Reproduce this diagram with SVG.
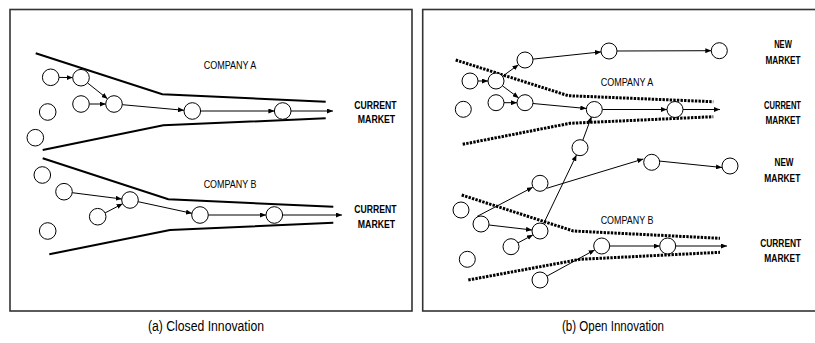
<svg xmlns="http://www.w3.org/2000/svg" width="815" height="343" viewBox="0 0 815 343">
<style>
.frame{fill:none;stroke:#333;stroke-width:1.6}
.funnel{fill:none;stroke:#000;stroke-width:2}
.dotted{fill:none;stroke:#000;stroke-width:3;stroke-dasharray:2.4 1.2}
.node{fill:#fff;stroke:#000;stroke-width:1}
.arrow{fill:none;stroke:#000;stroke-width:1;marker-end:url(#ah)}
.lbl{font-family:"Liberation Sans",Arial,sans-serif;font-size:11px;fill:#000;text-anchor:middle}
.mkt{font-family:"Liberation Sans",Arial,sans-serif;font-size:11px;font-weight:bold;fill:#000;text-anchor:middle}
.cap{font-family:"Liberation Sans",Arial,sans-serif;font-size:14px;fill:#000;text-anchor:middle}
</style>
<defs>
<marker id="ah" markerUnits="userSpaceOnUse" markerWidth="6" markerHeight="5" refX="6" refY="2.5" orient="auto">
<path d="M0,0 L6,2.5 L0,5 z" fill="#000"/>
</marker>
</defs>
<rect width="815" height="343" fill="#fff"/>

<g id="panel-a-frame"><rect class="frame" x="10" y="9.5" width="402" height="301.5"/></g>
<g id="panel-b-frame"><rect class="frame" x="422.7" y="9.5" width="400" height="301.5"/></g>

<g id="funnels">
<polyline class="funnel" points="35.7,53.3 162.3,94.3 325.7,101.7"/>
<polyline class="funnel" points="42.7,150 163.3,125.3 325.7,118.3"/>
<polyline class="funnel" points="42.7,158.3 168.3,199.3 333.3,206.7"/>
<polyline class="funnel" points="49.3,254.3 170,230 333.3,222.7"/>
<polyline class="dotted" points="455.7,60 568.3,95.7 713.3,101.7"/>
<polyline class="dotted" points="462.7,144.3 570,123.3 713.3,116.7"/>
<polyline class="dotted" points="461.7,195 573.3,231 720,238.3"/>
<polyline class="dotted" points="468.3,280 580,259.3 720,252.3"/>
</g>

<g id="connectors">
<line class="arrow" x1="59" y1="77.4" x2="72.7" y2="77.6"/>
<line class="arrow" x1="87.5" y1="82.9" x2="107.5" y2="98.8"/>
<line class="arrow" x1="89.3" y1="104" x2="105.7" y2="104"/>
<line class="arrow" x1="122.3" y1="104.7" x2="184" y2="110.3"/>
<line class="arrow" x1="200.6" y1="111" x2="274.4" y2="111"/>
<line class="arrow" x1="291" y1="111" x2="333" y2="111"/>
<line class="arrow" x1="72.2" y1="192.7" x2="121.8" y2="199"/>
<line class="arrow" x1="105.1" y1="212.9" x2="122.6" y2="203.8"/>
<line class="arrow" x1="138.1" y1="201.7" x2="191.9" y2="213.3"/>
<line class="arrow" x1="208.3" y1="215" x2="266" y2="215"/>
<line class="arrow" x1="282.6" y1="215" x2="342" y2="215"/>

<line class="arrow" x1="478" y1="81" x2="488" y2="81"/>
<line class="arrow" x1="502.5" y1="76.3" x2="518.5" y2="64.7"/>
<line class="arrow" x1="502.4" y1="85.8" x2="518.6" y2="97.9"/>
<line class="arrow" x1="504" y1="102.7" x2="517" y2="102.7"/>
<line class="arrow" x1="533" y1="59.1" x2="601" y2="51.9"/>
<line class="arrow" x1="617" y1="51" x2="711.3" y2="50.7"/>
<line class="arrow" x1="533" y1="103.5" x2="586.3" y2="108.5"/>
<line class="arrow" x1="602.3" y1="109.5" x2="667" y2="109.5"/>
<line class="arrow" x1="683" y1="109.5" x2="720" y2="109.5"/>
<line class="arrow" x1="582.8" y1="140.2" x2="591.5" y2="116.8"/>
<line class="arrow" x1="543.5" y1="223.8" x2="576.5" y2="154.9"/>
<line class="arrow" x1="477" y1="216.5" x2="532.7" y2="187.3"/>
<line class="arrow" x1="489" y1="225" x2="532" y2="230"/>
<line class="arrow" x1="518" y1="242.9" x2="533" y2="234.8"/>
<line class="arrow" x1="546.7" y1="188.3" x2="643.3" y2="159"/>
<line class="arrow" x1="659" y1="161" x2="722" y2="167.5"/>
<line class="arrow" x1="547" y1="276.1" x2="594.7" y2="249.9"/>
<line class="arrow" x1="609.7" y1="246" x2="659.7" y2="246"/>
<line class="arrow" x1="675.7" y1="246" x2="727" y2="246"/>
</g>

<g id="a-nodes">
<circle id="a1" class="node" cx="50.7" cy="77.3" r="8.3"/>
<circle id="a2" class="node" cx="81" cy="77.7" r="8.3"/>
<circle id="a3" class="node" cx="81" cy="104" r="8.3"/>
<circle id="a4" class="node" cx="114" cy="104" r="8.3"/>
<circle id="a5" class="node" cx="47.7" cy="112" r="8.3"/>
<circle id="a6" class="node" cx="35.3" cy="137.7" r="8.3"/>
<circle id="a7" class="node" cx="192.3" cy="111" r="8.3"/>
<circle id="a8" class="node" cx="282.7" cy="111" r="8.3"/>
<circle id="b1" class="node" cx="42.3" cy="175" r="8.3"/>
<circle id="b2" class="node" cx="64" cy="191.7" r="8.3"/>
<circle id="b3" class="node" cx="130" cy="200" r="8.3"/>
<circle id="b4" class="node" cx="97.7" cy="216.7" r="8.3"/>
<circle id="b5" class="node" cx="47.7" cy="231" r="8.3"/>
<circle id="b6" class="node" cx="200" cy="215" r="8.3"/>
<circle id="b7" class="node" cx="274.3" cy="215" r="8.3"/>
</g>

<g id="b-nodes">
<circle id="r1" class="node" cx="470" cy="81" r="8"/>
<circle id="r2" class="node" cx="496" cy="81" r="8"/>
<circle id="r3" class="node" cx="463.3" cy="109.3" r="8"/>
<circle id="r4" class="node" cx="496" cy="102.7" r="8"/>
<circle id="r5" class="node" cx="525" cy="60" r="8"/>
<circle id="r6" class="node" cx="525" cy="102.7" r="8"/>
<circle id="r7" class="node" cx="609" cy="51" r="8"/>
<circle id="r8" class="node" cx="594.3" cy="109.5" r="8"/>
<circle id="r9" class="node" cx="675" cy="109.5" r="8"/>
<circle id="r10" class="node" cx="719.3" cy="50.7" r="8"/>
<circle id="r11" class="node" cx="580" cy="147.7" r="8"/>
<circle id="s1" class="node" cx="651.7" cy="162.3" r="8"/>
<circle id="s2" class="node" cx="730" cy="166" r="8"/>
<circle id="s3" class="node" cx="540" cy="183.3" r="8"/>
<circle id="s4" class="node" cx="461" cy="210" r="8"/>
<circle id="s5" class="node" cx="481" cy="224" r="8"/>
<circle id="s6" class="node" cx="540" cy="231" r="8"/>
<circle id="s7" class="node" cx="511" cy="246.7" r="8"/>
<circle id="s8" class="node" cx="601.7" cy="246" r="8"/>
<circle id="s9" class="node" cx="667.7" cy="246" r="8"/>
<circle id="s10" class="node" cx="467.3" cy="259.3" r="8"/>
<circle id="s11" class="node" cx="540" cy="280" r="8"/>
</g>

<g id="labels">
<text class="lbl" x="230" y="69.3" textLength="52.7" lengthAdjust="spacingAndGlyphs">COMPANY A</text>
<text class="mkt" x="375.5" y="109" textLength="42.3" lengthAdjust="spacingAndGlyphs">CURRENT</text>
<text class="mkt" x="376.5" y="123" textLength="37.4" lengthAdjust="spacingAndGlyphs">MARKET</text>
<text class="lbl" x="230" y="188.3" textLength="52.7" lengthAdjust="spacingAndGlyphs">COMPANY B</text>
<text class="mkt" x="375.5" y="213.3" textLength="42.3" lengthAdjust="spacingAndGlyphs">CURRENT</text>
<text class="mkt" x="376.5" y="228" textLength="37.4" lengthAdjust="spacingAndGlyphs">MARKET</text>

<text class="mkt" x="783" y="48.3" textLength="17.7" lengthAdjust="spacingAndGlyphs">NEW</text>
<text class="mkt" x="783" y="64" textLength="35" lengthAdjust="spacingAndGlyphs">MARKET</text>
<text class="lbl" x="627" y="85.7" textLength="52.7" lengthAdjust="spacingAndGlyphs">COMPANY A</text>
<text class="mkt" x="782.5" y="109" textLength="37" lengthAdjust="spacingAndGlyphs">CURRENT</text>
<text class="mkt" x="783" y="124" textLength="35" lengthAdjust="spacingAndGlyphs">MARKET</text>
<text class="mkt" x="784" y="166.3" textLength="19" lengthAdjust="spacingAndGlyphs">NEW</text>
<text class="mkt" x="782.3" y="181.7" textLength="36" lengthAdjust="spacingAndGlyphs">MARKET</text>
<text class="lbl" x="627" y="224" textLength="52.7" lengthAdjust="spacingAndGlyphs">COMPANY B</text>
<text class="mkt" x="780.7" y="246.7" textLength="41" lengthAdjust="spacingAndGlyphs">CURRENT</text>
<text class="mkt" x="782.3" y="262.3" textLength="36" lengthAdjust="spacingAndGlyphs">MARKET</text>

<text class="cap" x="206" y="331" textLength="116" lengthAdjust="spacingAndGlyphs">(a) Closed Innovation</text>
<text class="cap" x="613" y="331" textLength="102" lengthAdjust="spacingAndGlyphs">(b) Open Innovation</text>
</g>
</svg>
